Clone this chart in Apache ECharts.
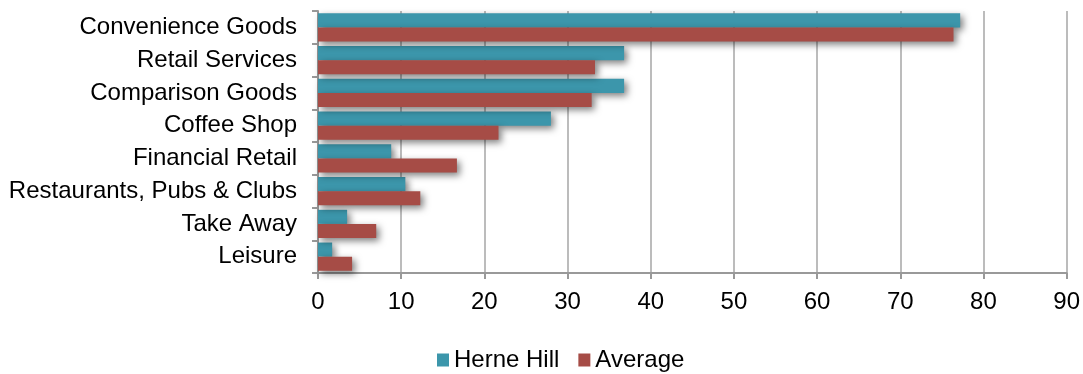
<!DOCTYPE html>
<html>
<head>
<meta charset="utf-8">
<script src="https://cdn.jsdelivr.net/npm/echarts@6/dist/echarts.min.js"></script>
<style>
  html, body { margin: 0; padding: 0; background: #fff; }
  #chart { width: 1083px; height: 374px; }
</style>
</head>
<body>
<div id="chart"></div>
<script>
// categories, top to bottom as drawn
var categories = ['Convenience Goods', 'Retail Services', 'Comparison Goods', 'Coffee Shop',
    'Financial Retail', 'Restaurants, Pubs & Clubs', 'Take Away', 'Leisure'];
var herneHill = [77.2, 36.8, 36.8, 28.0, 8.8, 10.5, 3.5, 1.7];
var average = [76.4, 33.3, 32.9, 21.7, 16.7, 12.3, 7.0, 4.1];

var chart = echarts.init(document.getElementById('chart'));

var barShadow = {
    shadowBlur: 7,
    shadowOffsetX: 3,
    shadowOffsetY: 3,
    shadowColor: 'rgba(0,0,0,0.5)'
};

chart.setOption({
    animation: false,
    textStyle: { fontFamily: 'Liberation Sans' },
    grid: { left: 318, right: 15, top: 11, bottom: 101 },
    legend: {
        left: 432,
        top: 343,
        itemWidth: 12,
        itemHeight: 13,
        itemGap: 19,
        icon: 'rect',
        textStyle: { fontSize: 24, color: '#000', fontFamily: 'Liberation Sans' },
        data: ['Herne Hill', 'Average']
    },
    xAxis: {
        type: 'value',
        min: 0,
        max: 90,
        interval: 10,
        axisLine: { show: true, lineStyle: { color: '#999', width: 2 } },
        axisTick: { show: true, length: 6, lineStyle: { color: '#999', width: 2 } },
        axisLabel: { fontSize: 24, color: '#000', margin: 17 },
        splitLine: { show: true, lineStyle: { color: '#a6a6a6', width: 1.5 } }
    },
    yAxis: {
        type: 'category',
        inverse: true,
        data: categories,
        axisLine: { show: true, lineStyle: { color: '#999', width: 2 } },
        axisTick: { show: true, length: 6, lineStyle: { color: '#999', width: 2 } },
        axisLabel: { fontSize: 24, color: '#000', margin: 21, padding: [3, 0, 0, 0] }
    },
    series: [
        {
            name: 'Herne Hill',
            type: 'bar',
            data: herneHill,
            barGap: '0%',
            barCategoryGap: '14%',
            itemStyle: Object.assign({ color: '#3c96ab' }, barShadow)
        },
        {
            name: 'Average',
            type: 'bar',
            data: average,
            barGap: '0%',
            barCategoryGap: '14%',
            itemStyle: Object.assign({ color: '#a64c46' }, barShadow)
        }
    ]
});
</script>
</body>
</html>
